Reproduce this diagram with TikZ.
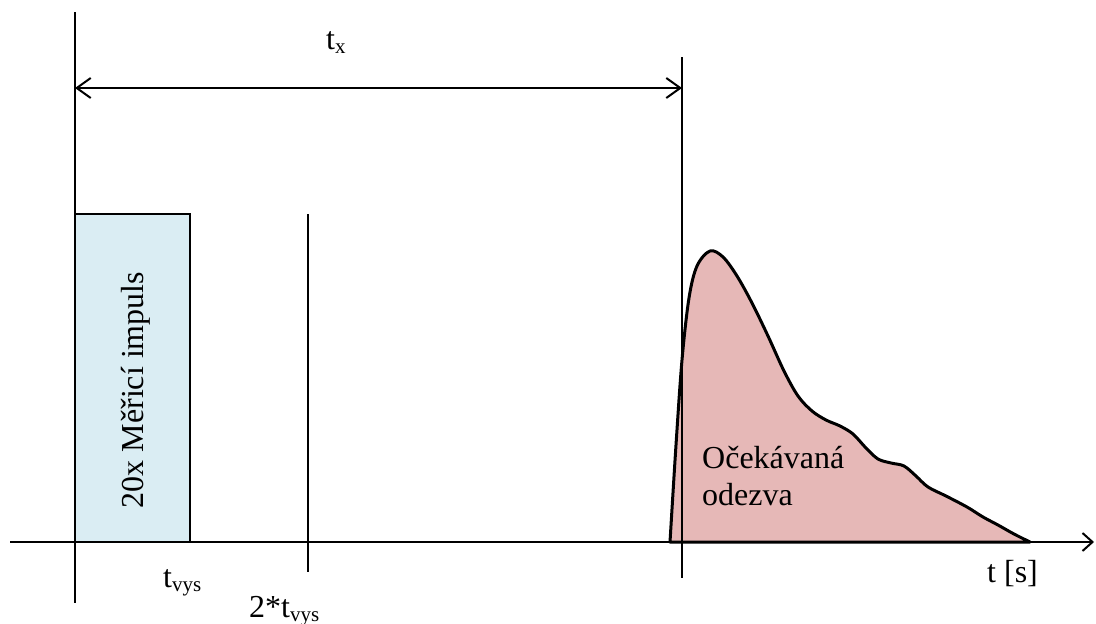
\documentclass[tikz,border=0pt]{standalone}
\usepackage{fontspec}
\setmainfont{Liberation Serif}
\usetikzlibrary{arrows.meta}
\definecolor{boxblue}{HTML}{DAEDF3}
\definecolor{respink}{HTML}{E6B8B7}
\newcommand{\lbl}[2]{#1\raisebox{-4pt}{\fontsize{21}{21}\selectfont #2}}
\begin{document}
\begin{tikzpicture}[x=1pt,y=-1pt,
  txt/.style={font=\fontsize{32}{37}\selectfont, inner sep=0pt},
  vline/.style={line width=1.8pt},
  dimarrow/.style={line width=2pt, {Straight Barb[length=14pt,width=20pt,line width=2pt]}-{Straight Barb[length=14pt,width=20pt,line width=2pt]}},
  axis/.style={line width=2pt, -{Straight Barb[length=10pt,width=18pt,line width=2pt]}}]
\useasboundingbox (0,0) rectangle (1096,624);
% coordinates
\coordinate (axL) at (10,542);
\coordinate (axR) at (1094,542);
\coordinate (v0top) at (75,12);
\coordinate (v0bot) at (75,603);
\coordinate (v2top) at (308,214);
\coordinate (v2bot) at (308,572);
\coordinate (vxtop) at (682,57);
\coordinate (vxbot) at (682,578);
\coordinate (arL) at (75,88);
\coordinate (arR) at (682,88);
% pulse box
\draw[fill=boxblue, line width=2.2pt] (75,542) rectangle (190,214);
\node[txt, rotate=90] (pulse) at (136,390) {20x Měřicí impuls};
% response
\draw[fill=respink, line width=3pt, line join=round]
  plot[smooth, tension=0.55] coordinates {(670,542) (676,445) (682,360) (689,298) (697,266) (710,251) (723,257) (737,276) (752,303) (768,336) (784,371) (798,396) (812,411) (826,420) (840,426) (853,434) (866,448) (878,459) (891,463) (904,466) (916,476) (928,487) (946,496) (967,507) (983,517) (998,525) (1014,534) (1030,542)} -- cycle;
\node[txt, anchor=base west, align=left] (resp) at (702,505) {Očekávaná\\odezva};
% lines
\draw[vline] (v0top) -- (v0bot);
\draw[vline] (v2top) -- (v2bot);
\draw[vline] (vxtop) -- (vxbot);
\draw[axis] (axL) -- (axR);
\draw[dimarrow] (arL) -- (arR);
% labels
\node[txt, anchor=base west] (tx) at (326,49) {\lbl{t}{x}};
\node[txt, anchor=base west] (tvys) at (163,587) {\lbl{t}{vys}};
\node[txt, anchor=base west] (t2vys) at (249,617) {2*\lbl{t}{vys}};
\node[txt, anchor=base west] (ts) at (987,582) {t [s]};
\end{tikzpicture}
\end{document}
